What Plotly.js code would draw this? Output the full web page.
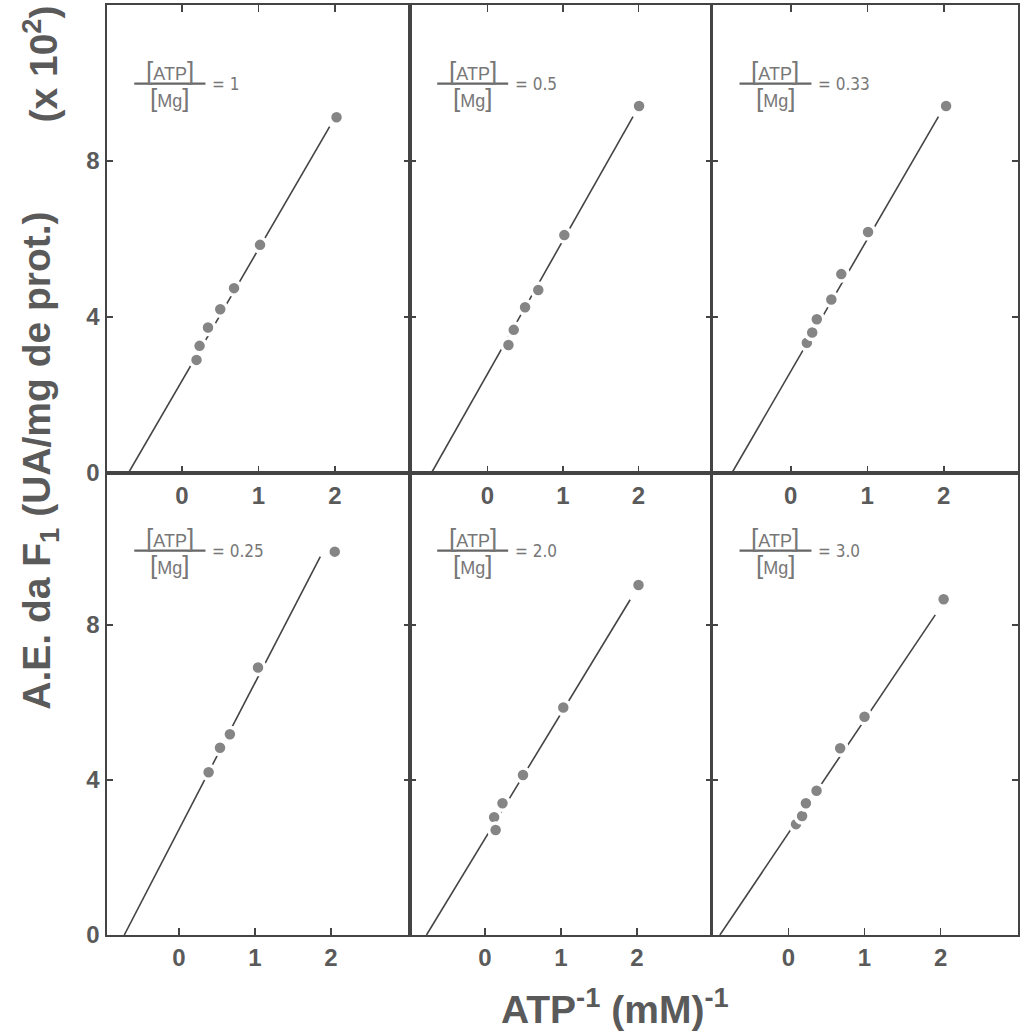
<!DOCTYPE html>
<html>
<head>
<meta charset="utf-8">
<script src="https://cdn.plot.ly/plotly-3.0.1.min.js"></script>
<style>html,body{margin:0;padding:0;background:#fff;}#chart{width:1021px;height:1035px;}</style>
</head>
<body>
<div id="chart"></div>
<script>
// ---- data ----
const ratioLabels = ['1', '0.5', '0.33', '0.25', '2.0', '3.0'];

const xA = [0.19, 0.23, 0.34, 0.50, 0.68, 1.02, 2.02];
const yA = [2.90, 3.26, 3.73, 4.20, 4.74, 5.85, 9.12];
const fitXA = [-0.70, 1.93];
const fitYA = [0, 8.88];

const xB = [0.28, 0.35, 0.50, 0.675, 1.02, 2.01];
const yB = [3.28, 3.67, 4.25, 4.69, 6.10, 9.41];
const fitXB = [-0.74, 1.93];
const fitYB = [0, 9.14];

const xC = [0.21, 0.28, 0.34, 0.53, 0.66, 1.01, 2.03];
const yC = [3.34, 3.60, 3.94, 4.45, 5.10, 6.18, 9.41];
const fitXC = [-0.77, 1.93];
const fitYC = [0, 9.14];

const xD = [0.39, 0.54, 0.67, 1.04, 2.05];
const yD = [4.20, 4.83, 5.18, 6.90, 9.89];
const fitXD = [-0.72, 1.86];
const fitYD = [0, 9.76];

const xE = [0.12, 0.14, 0.23, 0.50, 1.03, 2.02];
const yE = [3.04, 2.71, 3.40, 4.13, 5.87, 9.03];
const fitXE = [-0.77, 1.91];
const fitYE = [0, 8.65];

const xF = [0.10, 0.18, 0.23, 0.37, 0.68, 1.00, 2.04];
const yF = [2.86, 3.07, 3.40, 3.72, 4.82, 5.63, 8.66];
const fitXF = [-0.90, 1.93];
const fitYF = [0, 8.26];

const xTickVals = [0, 1, 2];
const xTickText = ['0', '1', '2'];
const yTickVals = [0, 4, 8];
const yTickText = ['0', '4', '8'];

// ---- build ----
const panels = [
  {x: xA, y: yA, fx: fitXA, fy: fitYA},
  {x: xB, y: yB, fx: fitXB, fy: fitYB},
  {x: xC, y: yC, fx: fitXC, fy: fitYC},
  {x: xD, y: yD, fx: fitXD, fy: fitYD},
  {x: xE, y: yE, fx: fitXE, fy: fitYE},
  {x: xF, y: yF, fx: fitXF, fy: fitYF}
];

const colDomains = [[0, 0.3326], [0.3326, 0.6641], [0.6641, 1]];
const rowDomains = [[0.4968, 1], [0, 0.4968]];
const xRanges = [[-0.98, 2.98], [-1.024, 2.976], [-1.03, 2.97],
                 [-0.947, 3.04], [-0.987, 2.987], [-1.004, 3.017]];
const yRanges = [[0, 12.0], [0, 11.92]];

const tickFont = {family: 'Liberation Sans, Arial, sans-serif', size: 24, color: '#5a5a5a', weight: 'bold'};
const traces = [];
const layout = {
  width: 1021, height: 1035,
  margin: {l: 107, r: 3, t: 5, b: 100},
  paper_bgcolor: '#fff', plot_bgcolor: '#fff',
  showlegend: false,
  font: {family: 'Liberation Sans, Arial, sans-serif', color: '#444'},
  annotations: [], shapes: []
};

panels.forEach((p, i) => {
  const n = i === 0 ? '' : String(i + 1);
  const row = i < 3 ? 0 : 1;
  const col = i % 3;
  traces.push({
    x: p.fx, y: p.fy, xaxis: 'x' + n, yaxis: 'y' + n,
    mode: 'lines', type: 'scatter', hoverinfo: 'skip',
    line: {color: '#444', width: 1.6}
  });
  traces.push({
    x: p.x, y: p.y, xaxis: 'x' + n, yaxis: 'y' + n,
    mode: 'markers', type: 'scatter', hoverinfo: 'skip',
    marker: {size: 14, color: '#858585', line: {color: '#fff', width: 3.5}}
  });
  layout['xaxis' + n] = {
    domain: colDomains[col], range: xRanges[i], anchor: 'y' + n,
    tickvals: xTickVals, ticktext: xTickText,
    ticks: 'inside', ticklen: 7, tickwidth: 1.5, tickcolor: '#444',
    showline: true, linewidth: 2, linecolor: '#444',
    mirror: row === 0 ? 'ticks' : true,
    showgrid: false, zeroline: false, tickfont: tickFont, fixedrange: true
  };
  layout['yaxis' + n] = {
    domain: rowDomains[row], range: yRanges[row], anchor: 'x' + n,
    tickvals: yTickVals, ticktext: yTickText,
    ticks: 'inside', ticklen: 6, tickwidth: 1.5, tickcolor: '#444',
    showline: true, linewidth: col === 0 ? 2.5 : 1.5, linecolor: '#444',
    mirror: 'ticks', showticklabels: col === 0,
    showgrid: false, zeroline: false, tickfont: tickFont, fixedrange: true
  };
  const xr = 'x' + n + ' domain', yr = 'y' + n + ' domain';
  const lblFont = {family: 'Liberation Sans, Arial, sans-serif', size: 18, color: '#777'};
  const br = (s) => '<span style="font-size:26px">[</span>' + s + '<span style="font-size:26px">]</span>';
  layout.shapes.push({type: 'line', xref: xr, yref: yr, x0: 0.09, x1: 0.325, y0: 0.832, y1: 0.832,
    line: {color: '#666', width: 2.2}});
  layout.annotations.push({xref: xr, yref: yr, x: 0.207, y: 0.832, yanchor: 'bottom', xanchor: 'center',
    text: br('ATP'), showarrow: false, font: lblFont, yshift: -4});
  layout.annotations.push({xref: xr, yref: yr, x: 0.207, y: 0.832, yanchor: 'top', xanchor: 'center',
    text: br('Mg'), showarrow: false, font: lblFont, yshift: 3});
  layout.annotations.push({xref: xr, yref: yr, x: 0.34, y: 0.832, yanchor: 'middle', xanchor: 'left',
    text: '= ' + ratioLabels[i], showarrow: false,
    font: {family: 'Liberation Sans Narrow, DejaVu Sans Condensed, Liberation Sans, sans-serif', size: 17, color: '#777'}});
});

const titleFont = {family: 'Liberation Sans, Arial, sans-serif', size: 39, color: '#5a5a5a', weight: 'bold'};
layout.annotations.push({xref: 'paper', yref: 'paper', x: -0.0735, y: 0.51, xanchor: 'center', yanchor: 'middle',
  textangle: -90, showarrow: false, font: titleFont,
  text: 'A.E. da F<sub>1</sub> (UA/mg de prot.)'});
layout.annotations.push({xref: 'paper', yref: 'paper', x: -0.0735, y: 0.936, xanchor: 'center', yanchor: 'middle',
  textangle: -90, showarrow: false, font: titleFont,
  text: '(x 10<sup>2</sup>)'});
layout.annotations.push({xref: 'paper', yref: 'paper', x: 0.5576, y: -0.0774, xanchor: 'center', yanchor: 'middle',
  showarrow: false, font: titleFont,
  text: 'ATP<sup>-1</sup> (mM)<sup>-1</sup>'});

Plotly.newPlot('chart', traces, layout, {displayModeBar: false, staticPlot: true});
</script>
</body>
</html>
